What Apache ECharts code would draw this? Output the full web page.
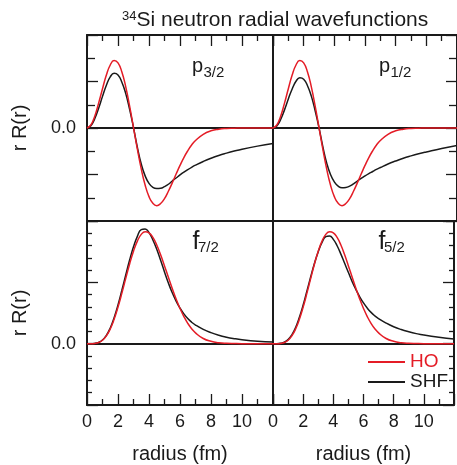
<!DOCTYPE html>
<html>
<head>
<meta charset="utf-8">
<title>34Si neutron radial wavefunctions</title>
<script src="https://cdn.jsdelivr.net/npm/echarts@6.0.0/dist/echarts.min.js"></script>
<style>
html, body { margin: 0; padding: 0; background: #fff; }
#chart { width: 457px; height: 465px; }
</style>
</head>
<body>
<div id="chart"></div>
<script>
var FONT = '"Liberation Sans", Arial, Helvetica, sans-serif';
var RED = '#e41c26';
var INK = '#1a1a1a';

// radius (fm) sample points
var radius = [0, 0.25, 0.5, 0.75, 1, 1.25, 1.5, 1.75, 2, 2.25, 2.5, 2.75, 3, 3.25, 3.5, 3.75,
  4, 4.25, 4.5, 4.75, 5, 5.25, 5.5, 5.75, 6, 6.25, 6.5, 6.75, 7, 7.5, 8, 8.5, 9, 9.5, 10, 11, 12];

// p states (top row) - HO is the same for p3/2 and p1/2
var hoP = [0, 0.13, 0.51, 1.07, 1.69, 2.28, 2.71, 2.90, 2.80, 2.41, 1.77, 0.94, 0.02, -0.91, -1.76, -2.45,
  -2.95, -3.24, -3.34, -3.25, -3.04, -2.72, -2.36, -1.98, -1.61, -1.27, -0.98, -0.73, -0.54, -0.27, -0.12, -0.05, -0.02, -0.01, 0, 0, 0];
var shfP32 = [0, 0.1, 0.4, 0.85, 1.36, 1.84, 2.2, 2.35, 2.28, 1.97, 1.48, 0.8, 0.02, -0.83, -1.55, -2.06,
  -2.38, -2.55, -2.6, -2.59, -2.52, -2.42, -2.28, -2.15, -2.02, -1.9, -1.79, -1.69, -1.6, -1.44, -1.3, -1.18, -1.08, -0.99, -0.91, -0.78, -0.67];
var shfP12 = [0, 0.09, 0.37, 0.78, 1.25, 1.68, 2.01, 2.16, 2.1, 1.82, 1.37, 0.74, 0.02, -0.8, -1.5, -2.0,
  -2.32, -2.5, -2.57, -2.56, -2.5, -2.4, -2.28, -2.17, -2.06, -1.96, -1.87, -1.78, -1.7, -1.55, -1.42, -1.3, -1.2, -1.11, -1.03, -0.88, -0.75];

// f states (bottom row)
var hoF = [0, 0, 0.02, 0.09, 0.28, 0.64, 1.20, 1.99, 2.98, 4.12, 5.32, 6.50, 7.54, 8.36, 8.91, 9.13,
  9.04, 8.66, 8.04, 7.24, 6.34, 5.41, 4.49, 3.63, 2.87, 2.21, 1.66, 1.22, 0.88, 0.42, 0.19, 0.08, 0.03, 0.01, 0, 0, 0];
var shfF72 = [0, 0, 0.02, 0.1, 0.3, 0.68, 1.28, 2.12, 3.15, 4.35, 5.6, 6.82, 7.9, 8.75, 9.3, 9.35,
  9.05, 8.45, 7.7, 6.8, 5.85, 4.95, 4.15, 3.47, 2.9, 2.43, 2.05, 1.75, 1.52, 1.17, 0.9, 0.69, 0.53, 0.41, 0.32, 0.2, 0.13];
var shfF52 = [0, 0, 0.03, 0.12, 0.33, 0.72, 1.32, 2.15, 3.15, 4.3, 5.45, 6.55, 7.5, 8.25, 8.72, 8.78,
  8.5, 7.98, 7.3, 6.55, 5.8, 5.05, 4.4, 3.82, 3.32, 2.9, 2.55, 2.27, 2.05, 1.68, 1.38, 1.15, 0.97, 0.82, 0.7, 0.52, 0.38];

var panels = [
  {ho: hoP, shf: shfP32, main: 'p', sub: '3/2'},
  {ho: hoP, shf: shfP12, main: 'p', sub: '1/2'},
  {ho: hoF, shf: shfF72, main: 'f', sub: '7/2'},
  {ho: hoF, shf: shfF52, main: 'f', sub: '5/2'}
];

function pairs(ys) {
  return radius.map(function (r, i) { return [r, ys[i]]; });
}

var myChart = echarts.init(document.getElementById('chart'));

var grids = [
  {left: 87, top: 35, width: 186, height: 186},
  {left: 273, top: 35, width: 186, height: 186},
  {left: 87, top: 221, width: 186, height: 185},
  {left: 273, top: 221, width: 186, height: 185}
];

function frame() {
  return {show: true, onZero: false, lineStyle: {color: INK, width: 2}};
}

function xAxis(i, pos, ticks, labels) {
  return {
    type: 'value', gridIndex: i, position: pos, min: 0, max: 12, interval: 2,
    axisLine: frame(),
    axisTick: {show: ticks, inside: true, length: 11, lineStyle: {color: INK, width: 1.3}},
    minorTick: {show: ticks, splitNumber: 2, length: 6, lineStyle: {color: INK, width: 1.3}},
    splitLine: {show: false},
    axisLabel: {
      show: labels, margin: 8, fontSize: 18, fontFamily: FONT, color: INK,
      formatter: function (v) { return v === 12 ? '' : String(v); }
    },
    name: labels ? 'radius (fm)' : '',
    nameLocation: 'middle', nameGap: 39,
    nameTextStyle: {fontSize: 20, fontFamily: FONT, color: INK}
  };
}

function yAxis(i, pos, ticks, labels) {
  var top = i < 2;
  return {
    type: 'value', gridIndex: i, position: pos,
    min: top ? -4 : -5, max: top ? 4 : 10, interval: top ? 2 : 5,
    axisLine: frame(),
    axisTick: {show: ticks, inside: true, length: 11, lineStyle: {color: INK, width: 1.3}},
    minorTick: {show: ticks, splitNumber: top ? 2 : 5, length: top ? 8 : 5, lineStyle: {color: INK, width: 1.3}},
    splitLine: {show: false},
    axisLabel: {
      show: labels, margin: 11, fontSize: 18, fontFamily: FONT, color: INK,
      formatter: function (v) { return v === 0 ? '0.0' : ''; }
    },
    name: labels ? 'r R(r)' : '',
    nameLocation: 'middle', nameGap: 57, nameRotate: 90,
    nameTextStyle: {fontSize: 20, fontFamily: FONT, color: INK}
  };
}

var xAxes = [
  xAxis(0, 'bottom', false, false),
  xAxis(1, 'bottom', false, false),
  xAxis(2, 'bottom', true, true),
  xAxis(3, 'bottom', true, true),
  xAxis(0, 'top', true, false),
  xAxis(1, 'top', true, false)
];
var yAxes = [
  yAxis(0, 'left', true, true),
  yAxis(1, 'left', false, false),
  yAxis(2, 'left', true, true),
  yAxis(3, 'left', false, false),
  yAxis(1, 'right', true, false),
  yAxis(3, 'right', true, false)
];

var series = [];
panels.forEach(function (p, i) {
  series.push({
    name: 'SHF', type: 'line', xAxisIndex: i, yAxisIndex: i,
    data: pairs(p.shf), smooth: true, symbol: 'none', showSymbol: false, z: 5,
    lineStyle: {color: INK, width: 1.5}, itemStyle: {color: INK},
    markLine: {
      silent: true, symbol: 'none', z: 4, animation: false,
      label: {show: false},
      lineStyle: {color: INK, width: 1.8, type: 'solid'},
      data: [{yAxis: 0}]
    }
  });
  series.push({
    name: 'HO', type: 'line', xAxisIndex: i, yAxisIndex: i,
    data: pairs(p.ho), smooth: true, symbol: 'none', showSymbol: false, z: 6,
    lineStyle: {color: RED, width: 1.5}, itemStyle: {color: RED}
  });
});

// panel labels with subscripts
var labelPos = [
  {x: 192, y: 66.8, sx: 203.5, sy: 73.3, size: 20},
  {x: 379, y: 66.8, sx: 390.5, sy: 73.3, size: 20},
  {x: 192.5, y: 242, sx: 198, sy: 248.3, size: 25},
  {x: 378.5, y: 242, sx: 384, sy: 248.3, size: 25}
];
var graphics = [];
panels.forEach(function (p, i) {
  var L = labelPos[i];
  graphics.push({
    type: 'text', x: L.x, y: L.y, silent: true,
    style: {text: p.main, font: L.size + 'px ' + FONT, fill: INK,
      align: 'left', verticalAlign: 'middle', textAlign: 'left', textVerticalAlign: 'middle'}
  });
  graphics.push({
    type: 'text', x: L.sx, y: L.sy, silent: true,
    style: {text: p.sub, font: '15px ' + FONT, fill: INK,
      align: 'left', verticalAlign: 'middle', textAlign: 'left', textVerticalAlign: 'middle'}
  });
});

myChart.setOption({
  animation: false,
  title: {
    text: '{s|34}{m|Si neutron radial wavefunctions}',
    left: 117, top: 5,
    textStyle: {
      fontWeight: 'normal',
      rich: {
        s: {fontSize: 13, fontFamily: FONT, fontWeight: 'normal', color: INK, verticalAlign: 'top'},
        m: {fontSize: 21, fontFamily: FONT, fontWeight: 'normal', color: INK}
      }
    }
  },
  legend: {
    orient: 'vertical', left: 363, top: 347,
    icon: 'rect', itemWidth: 37, itemHeight: 2, itemGap: 0,
    textStyle: {fontSize: 19, fontFamily: FONT, lineHeight: 20, color: INK},
    data: [
      {name: 'HO', textStyle: {color: RED}},
      {name: 'SHF', textStyle: {color: INK}}
    ]
  },
  grid: grids,
  xAxis: xAxes,
  yAxis: yAxes,
  series: series,
  graphic: graphics
});
</script>
</body>
</html>
